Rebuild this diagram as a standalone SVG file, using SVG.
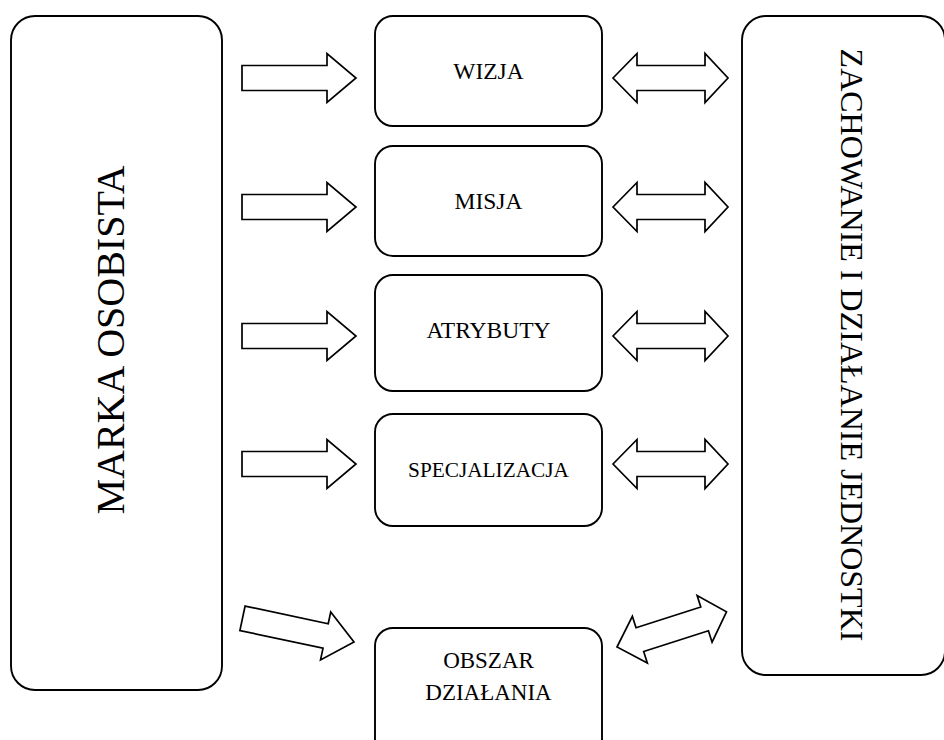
<svg xmlns="http://www.w3.org/2000/svg" xmlns:xlink="http://www.w3.org/1999/xlink" width="944" height="740" viewBox="0 0 944 740">
<style>
.box{fill:#fff;stroke:#000;stroke-width:1.9}
.arr{fill:#fff;stroke:#000;stroke-width:1.7;stroke-linejoin:miter}
.t{font-family:"Liberation Serif","Times New Roman",serif;fill:#000;text-anchor:middle}
</style>
<defs>
<path id="sa" d="M0,-12.5 H85 V-24.5 L114,0 L85,24.5 V12.5 H0 Z"/>
<path id="da" d="M0,0 L24,-24.5 V-12.5 H92 V-24.5 L115,0 L92,24.5 V12.5 H24 V24.5 Z"/>
</defs>
<rect width="944" height="740" fill="#fff"/>
<g id="connectors">
<use xlink:href="#sa" class="arr" transform="translate(242,78)"/>
<use xlink:href="#sa" class="arr" transform="translate(242,207)"/>
<use xlink:href="#sa" class="arr" transform="translate(242,336)"/>
<use xlink:href="#sa" class="arr" transform="translate(242,464)"/>
<use xlink:href="#sa" class="arr" transform="translate(354,642) rotate(12) translate(-114,0)"/>
<use xlink:href="#da" class="arr" transform="translate(613,78)"/>
<use xlink:href="#da" class="arr" transform="translate(613,207)"/>
<use xlink:href="#da" class="arr" transform="translate(613,336)"/>
<use xlink:href="#da" class="arr" transform="translate(613,464)"/>
<use xlink:href="#da" class="arr" transform="translate(617,647) rotate(-17.8)"/>
</g>
<g id="marka">
<rect class="box" x="11" y="16" width="211" height="674" rx="24"/>
<text class="t" font-size="40" transform="translate(124,340) rotate(-90)">MARKA OSOBISTA</text>
</g>
<g id="zachowanie">
<rect class="box" x="742" y="16" width="203" height="659" rx="24"/>
<text class="t" font-size="32" transform="translate(841,345) rotate(90)">ZACHOWANIE I DZIAŁANIE JEDNOSTKI</text>
</g>
<g id="wizja">
<rect class="box" x="375" y="16" width="227" height="110" rx="18"/>
<text class="t" x="488.5" y="79" font-size="23.5">WIZJA</text>
</g>
<g id="misja">
<rect class="box" x="375" y="146" width="227" height="110" rx="18"/>
<text class="t" x="488.5" y="209" font-size="23.5">MISJA</text>
</g>
<g id="atrybuty">
<rect class="box" x="375" y="275" width="227" height="116" rx="18"/>
<text class="t" x="488.5" y="338" font-size="23.5">ATRYBUTY</text>
</g>
<g id="specjalizacja">
<rect class="box" x="375" y="414" width="227" height="112" rx="18"/>
<text class="t" x="488.5" y="477" font-size="21.3">SPECJALIZACJA</text>
</g>
<g id="obszar">
<rect class="box" x="375" y="628" width="227" height="140" rx="18"/>
<text class="t" x="488.5" y="668" font-size="23">OBSZAR</text>
<text class="t" x="488.5" y="700" font-size="23">DZIAŁANIA</text>
</g>
</svg>
